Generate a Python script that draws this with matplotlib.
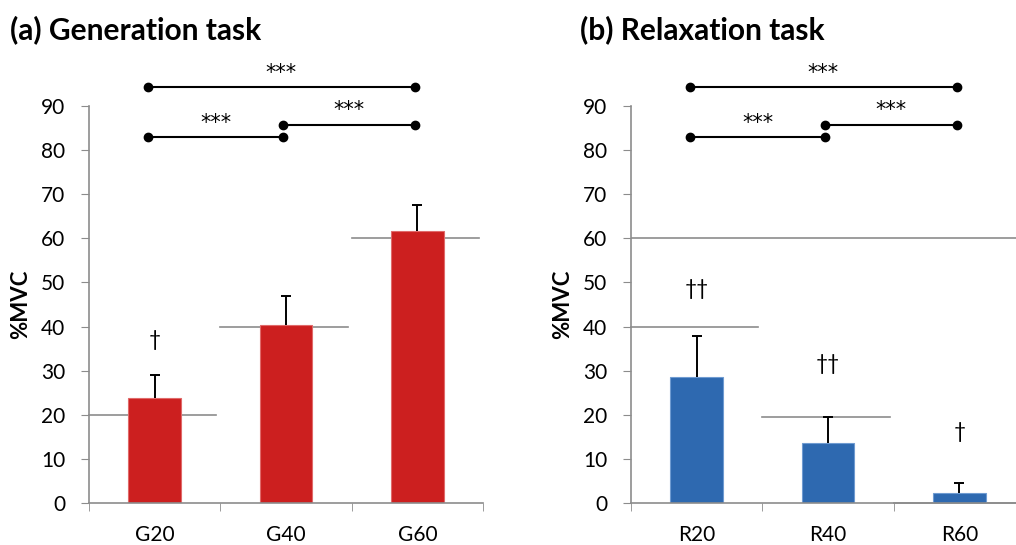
import numpy as np
import matplotlib
matplotlib.use('Agg')
import matplotlib.pyplot as plt

plt.rcParams['font.family'] = ['Lato', 'DejaVu Sans']

# data
gen_labels = ['G20', 'G40', 'G60']
gen_values = [23.9, 40.3, 61.7]
gen_errors = [5.1, 6.7, 5.9]
gen_targets = [20, 40, 60]
gen_marks = ['\u2020', '', '']
gen_mark_y = [37, 0, 0]

rel_labels = ['R20', 'R40', 'R60']
rel_values = [28.6, 13.5, 2.3]
rel_errors = [9.2, 5.9, 2.2]
rel_targets = [40, 19.6, 0]
rel_marks = ['\u2020\u2020', '\u2020\u2020', '\u2020']
rel_mark_y = [48.5, 31.5, 16.2]
rel_start = 60

# significance brackets: (x0, x1, y, star y)
brackets = [(-0.05, 1.98, 94.3, 97.4), (-0.05, 0.98, 83.0, 86.2), (0.98, 1.98, 85.7, 89.0)]
stars = '***'

fig = plt.figure(figsize=(10.16, 5.45), dpi=100)
ax1 = fig.add_axes([89 / 1016, 1 - 503 / 545, 394 / 1016, 397 / 545])
ax2 = fig.add_axes([631 / 1016, 1 - 503 / 545, 394 / 1016, 397 / 545])

gray = '#8c8c8c'


def draw_panel(ax, labels, values, errors, targets, marks, mark_y, color, edge):
    x = np.arange(len(labels))
    ax.bar(x, values, width=0.4, color=color, edgecolor=edge, linewidth=0.8, zorder=2)
    # upper error bars only
    tops = np.array(values) + np.array(errors)
    ax.vlines(x, values, tops, color='black', lw=1.4, zorder=3)
    ax.plot(x, tops, linestyle='none', marker='_', markersize=7, markeredgewidth=1.4,
            color='black', zorder=3)
    for i, t in enumerate(targets):
        ax.plot([i - 0.5, i + 0.47], [t, t], color=gray, lw=1.2, zorder=1, clip_on=False)
    for i, m in enumerate(marks):
        if m:
            ax.text(i, mark_y[i], m, ha='center', va='center', fontsize=15)
    for x0, x1, y, sy in brackets:
        ax.plot([x0, x1], [y, y], color='black', lw=1.5, marker='o', markersize=6, clip_on=False)
        ax.text((x0 + x1) / 2, sy, stars, ha='center', va='center', fontsize=15,
                family='DejaVu Sans', clip_on=False)
    ax.set_xlim(-0.5, 2.5)
    ax.set_ylim(0, 90)
    ax.set_yticks(range(0, 91, 10))
    ax.set_xticks(x)
    ax.set_xticklabels(labels, fontsize=15)
    ax.set_xticks([-0.5, 0.5, 1.5, 2.5], minor=True)
    ax.tick_params(axis='x', which='major', length=0, pad=16)
    ax.tick_params(axis='x', which='minor', length=6, color=gray, direction='out')
    ax.tick_params(axis='y', length=6, color=gray, labelsize=15, pad=11)
    for s in ['top', 'right']:
        ax.spines[s].set_visible(False)
    for s in ['left', 'bottom']:
        ax.spines[s].set_color(gray)
        ax.spines[s].set_linewidth(1.2)
    ax.set_ylabel('%MVC', fontsize=16, fontweight='bold', labelpad=7)


draw_panel(ax1, gen_labels, gen_values, gen_errors, gen_targets, gen_marks, gen_mark_y,
           '#cc1f1f', '#e06a6a')
draw_panel(ax2, rel_labels, rel_values, rel_errors, rel_targets, rel_marks, rel_mark_y,
           '#2e69b0', '#6f9bd1')
ax2.plot([-0.5, 2.5], [rel_start, rel_start], color=gray, lw=1.2, zorder=1)

fig.text(10 / 1016, 1 - 30 / 545, '(a) Generation task', fontsize=21.5, fontweight='bold', va='center')
fig.text(580 / 1016, 1 - 30 / 545, '(b) Relaxation task', fontsize=21.5, fontweight='bold', va='center')

fig.savefig('out.png', dpi=100)
